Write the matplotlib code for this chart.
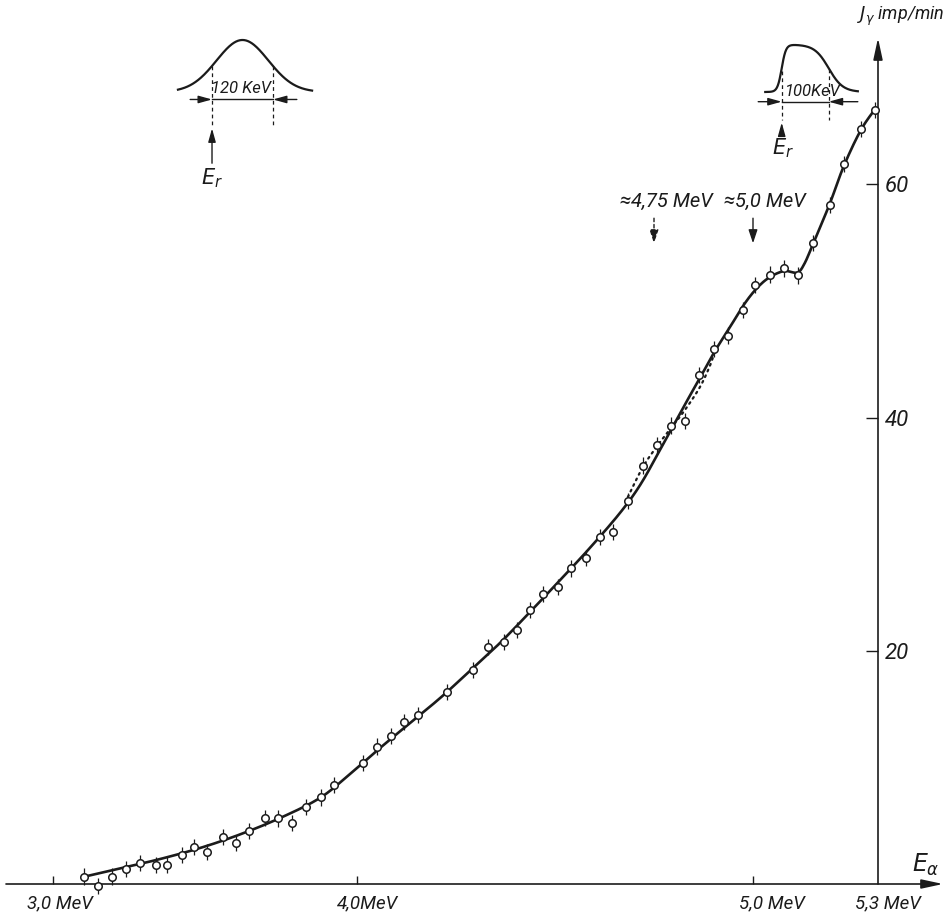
import numpy as np
import matplotlib
matplotlib.use("Agg")
import matplotlib.pyplot as plt
from matplotlib.scale import FuncScale

# ---------------------------------------------------------------- data
# alpha energy (MeV) and gamma yield J_gamma (imp/min) of the measured points
E_MEV = [3.102, 3.147, 3.193, 3.240, 3.286, 3.338, 3.374, 3.423, 3.465, 3.506,
         3.560, 3.602, 3.646, 3.697, 3.741, 3.787, 3.833, 3.882, 3.925, 4.014,
         4.051, 4.085, 4.119, 4.155, 4.227, 4.294, 4.332, 4.372, 4.403, 4.437,
         4.470, 4.508, 4.540, 4.578, 4.614, 4.647, 4.684, 4.723, 4.757, 4.793,
         4.828, 4.864, 4.901, 4.936, 4.974, 5.005, 5.041, 5.074, 5.108, 5.145,
         5.184, 5.218, 5.259, 5.293]
J_IMP = [0.63, -0.15, 0.63, 1.29, 1.78, 1.63, 1.63, 2.49, 3.15, 2.77,
         4.01, 3.54, 4.55, 5.66, 5.62, 5.21, 6.60, 7.42, 8.49, 10.40,
         11.78, 12.72, 13.92, 14.49, 16.49, 18.35, 20.35, 20.73, 21.78, 23.50,
         24.87, 25.50, 27.06, 27.94, 29.74, 30.21, 32.87, 35.89, 37.61, 39.31,
         39.73, 43.65, 45.91, 47.04, 49.23, 51.40, 52.27, 52.80, 52.19, 54.95,
         58.23, 61.75, 64.75, 66.38]
J_ERR = 0.7

# hand-drawn excitation curve (solid) and the alternative course (dotted)
CURVE_E = [3.105, 3.220, 3.352, 3.484, 3.615, 3.747, 3.878, 3.977, 4.058, 4.134,
           4.210, 4.285, 4.361, 4.437, 4.513, 4.588, 4.664, 4.715, 4.765, 4.816,
           4.866, 4.904, 4.942, 4.980, 5.012, 5.041, 5.075, 5.106, 5.123, 5.145,
           5.184, 5.218, 5.259, 5.295]
CURVE_J = [0.64, 1.33, 2.14, 3.09, 4.25, 5.66, 7.38, 9.43, 11.66, 13.81,
           15.95, 18.27, 20.67, 23.33, 26.07, 28.82, 31.82, 34.22, 37.22, 40.39,
           43.40, 45.71, 47.77, 49.83, 51.20, 52.06, 52.57, 52.44, 53.17, 54.97,
           58.32, 61.58, 64.67, 66.55]
DOT_E = [4.684, 4.722, 4.758, 4.793, 4.828, 4.866, 4.891, 4.904]
DOT_J = [33.19, 35.76, 37.56, 39.11, 40.65, 42.62, 44.43, 45.71]

X_TICK_E = [3.0, 4.0, 5.0, 5.3]
X_TICK_TEXT = ["3,0 MeV", "4,0MeV", "5,0 MeV", "5,3 MeV"]
Y_TICKS = [20, 40, 60]

MARK_E = [4.75, 5.0]
MARK_TEXT = ["\u22484,75 MeV", "\u22485,0 MeV"]

WIDTH_1 = 120   # keV, bell-shaped resolution curve
WIDTH_2 = 100   # keV, flat-topped resolution curve

# ---------------------------------------------------------------- style
INK = "#1b1b1b"
FONT = ["Roboto", "DejaVu Sans"]
plt.rcParams["font.family"] = FONT
plt.rcParams["mathtext.fontset"] = "dejavusans"

# the energy axis is graduated non-uniformly
GRAD_E = [3.0, 4.0, 5.0, 5.3]
GRAD_P = [53.0, 357.0, 753.0, 878.0]


def _piecewise(v, xs, ys):
    v = np.asarray(v, dtype=float)
    out = np.interp(v, xs, ys)
    lo = (ys[1] - ys[0]) / (xs[1] - xs[0])
    hi = (ys[-1] - ys[-2]) / (xs[-1] - xs[-2])
    out = np.where(v < xs[0], ys[0] + (v - xs[0]) * lo, out)
    out = np.where(v > xs[-1], ys[-1] + (v - xs[-1]) * hi, out)
    return out


def e_fwd(e):
    return _piecewise(e, GRAD_E, GRAD_P)


def e_inv(p):
    return _piecewise(p, GRAD_P, GRAD_E)


def smooth(ax, xs, ys, per_seg=14):
    """Catmull-Rom curve through the knots, computed in display space."""
    pts = ax.transData.transform(np.column_stack([xs, ys]))
    n = len(pts)
    t = np.linspace(0, 1, per_seg, endpoint=False)[:, None]
    segs = []
    for i in range(n - 1):
        p0 = pts[max(i - 1, 0)]
        p1 = pts[i]
        p2 = pts[i + 1]
        p3 = pts[min(i + 2, n - 1)]
        segs.append(0.5 * (2 * p1 + (p2 - p0) * t
                           + (2 * p0 - 5 * p1 + 4 * p2 - p3) * t ** 2
                           + (3 * p1 - p0 - 3 * p2 + p3) * t ** 3))
    segs.append(pts[-1:])
    return ax.transData.inverted().transform(np.vstack(segs)).T


W, H = 948, 913
fig = plt.figure(figsize=(W / 100, H / 100), dpi=100)
fig.patch.set_facecolor("white")

ax = fig.add_axes([0, 0, 1, 1])
ax.set_xscale(FuncScale(ax.xaxis, (e_fwd, e_inv)))
ax.set_xlim(float(e_inv(0)), float(e_inv(W)))
PX_PER_J = 11.66
ax.set_ylim((884 - H) / PX_PER_J, 884 / PX_PER_J)
ax.set_facecolor("none")
for s in ax.spines.values():
    s.set_visible(False)
ax.spines["bottom"].set_position(("data", 0))
ax.spines["right"].set_position(("data", 5.3))

# ticks
ax.set_xticks(X_TICK_E[:3])
ax.set_xticklabels([])
ax.tick_params(axis="x", direction="in", length=6, width=1.0, color=INK,
               bottom=True, top=False)
ax.yaxis.set_ticks_position("right")
ax.set_yticks(Y_TICKS)
ax.set_yticklabels([str(v) for v in Y_TICKS])
ax.tick_params(axis="y", direction="in", length=9, width=1.0, color=INK,
               right=True, left=False, pad=5, labelsize=16, labelcolor=INK)
for lab in ax.get_yticklabels():
    lab.set_fontstyle("italic")
    lab.set_family(FONT)

# axes with arrow heads
arrow_kw = dict(arrowstyle="-|>,head_length=1.3,head_width=0.28",
                color=INK, lw=1.2, mutation_scale=10, shrinkA=0, shrinkB=0)
ax.annotate("", xy=(float(e_inv(943)), 0), xytext=(float(e_inv(6)), 0),
            arrowprops=arrow_kw)
ax.annotate("", xy=(5.3, (884 - 38) / PX_PER_J), xytext=(5.3, 0),
            arrowprops=arrow_kw)

# energy labels under the axis
label_dx = [7, 11, 19, 10]
for e, txt, dx in zip(X_TICK_E, X_TICK_TEXT, label_dx):
    ax.annotate(txt, xy=(e, 0), xytext=(dx, -19), textcoords="offset pixels",
                ha="center", va="center", fontsize=13.5, style="italic",
                color=INK)

ax.text(5.415, 1.6, r"$E_{\alpha}$", ha="center", va="center",
        fontsize=17, color=INK)
ax.text(5.355, 74.4, r"$J_{\gamma}$ imp/min", ha="center", va="center",
        fontsize=13, style="italic", color=INK)

# curves
cx, cy = smooth(ax, CURVE_E, CURVE_J)
ax.plot(cx, cy, color=INK, lw=1.9, zorder=3, solid_capstyle="round")
dx_, dy_ = smooth(ax, DOT_E, DOT_J)
ax.plot(dx_, dy_, color=INK, lw=1.6, linestyle=(0, (0.8, 2.0)),
        dash_capstyle="round", zorder=3)

# measured points
ax.errorbar(E_MEV, J_IMP, yerr=J_ERR, fmt="o", ms=5.4, mfc="white",
            mec=INK, mew=1.1, ecolor=INK, elinewidth=0.9, capsize=0,
            zorder=4)

# resonance markers
for i, (e, txt) in enumerate(zip(MARK_E, MARK_TEXT)):
    ax.annotate(txt, xy=(e, 58.5), xytext=(12, 0),
                textcoords="offset pixels", ha="center", va="center",
                fontsize=14.5, style="italic", color=INK)
    ls = (0, (2.5, 2.0)) if i == 0 else "-"
    ax.annotate("", xy=(e, 54.95), xytext=(e, 57.1),
                arrowprops=dict(arrowstyle="-|>,head_length=0.9,head_width=0.3",
                                color=INK, lw=1.0, linestyle=ls,
                                mutation_scale=9, shrinkA=0, shrinkB=0))


def resolution_inset(box, xlim, ylim, xs, ys, left, right, line_h, x_ends,
                     dash_tops, dash_bottom, arrow_from, label, label_xy,
                     er_xy):
    a = fig.add_axes(box)
    a.set_xlim(*xlim)
    a.set_ylim(*ylim)
    a.axis("off")
    a.plot(xs, ys, color=INK, lw=1.6)
    for xv, top in zip((left, right), dash_tops):
        a.plot([xv, xv], [top, dash_bottom], color=INK, lw=0.9,
               linestyle=(0, (3.0, 2.5)))
    a.plot([left, right], [line_h, line_h], color=INK, lw=1.0)
    hk = dict(arrowstyle="-|>,head_length=0.9,head_width=0.25", color=INK,
              lw=1.0, mutation_scale=9, shrinkA=0, shrinkB=0)
    a.annotate("", xy=(left, line_h), xytext=(x_ends[0], line_h),
               arrowprops=hk)
    a.annotate("", xy=(right, line_h), xytext=(x_ends[1], line_h),
               arrowprops=hk)
    a.annotate("", xy=(left, dash_bottom - 0.05), xytext=(left, arrow_from),
               arrowprops=hk)
    a.text(*label_xy, label, ha="center", va="center", fontsize=12,
           style="italic", color=INK)
    a.text(*er_xy, r"$E_r$", ha="center", va="center", fontsize=15,
           color=INK)
    return a


# bell-shaped resolution curve, FWHM = WIDTH_1
k1 = np.linspace(-127, 137, 200)
sig = WIDTH_1 / 2.3548
g1 = np.exp(-0.5 * (k1 / sig) ** 2)
resolution_inset([170 / W, 1 - 195 / H, 150 / W, 165 / H],
                 (-142.7, 152.6), (-1.981, 1.192), k1, g1,
                 -WIDTH_1 / 2, WIDTH_1 / 2, -0.144, (-103, 107),
                 (0.5, 0.5), -0.65, -1.37, f"{WIDTH_1} KeV", (-3, 0.06),
                 (-60, -1.66))

# flat-topped resolution curve, FWHM = WIDTH_2
k2 = np.linspace(-35, 162, 200)
g2 = (1 / (1 + np.exp(-k2 / 4.5))) * (1 / (1 + np.exp((k2 - WIDTH_2) / 15.0)))
resolution_inset([745 / W, 1 - 165 / H, 125 / W, 130 / H],
                 (-78.1, 187.9), (-1.553, 1.213), k2, g2 / g2.max(),
                 0, WIDTH_2, -0.206, (-50, 162),
                 (0.45, 0.5), -0.6, -0.88, f"{WIDTH_2}KeV", (66, 0.02),
                 (3, -1.2))

fig.savefig("out.png", dpi=100, facecolor="white")
